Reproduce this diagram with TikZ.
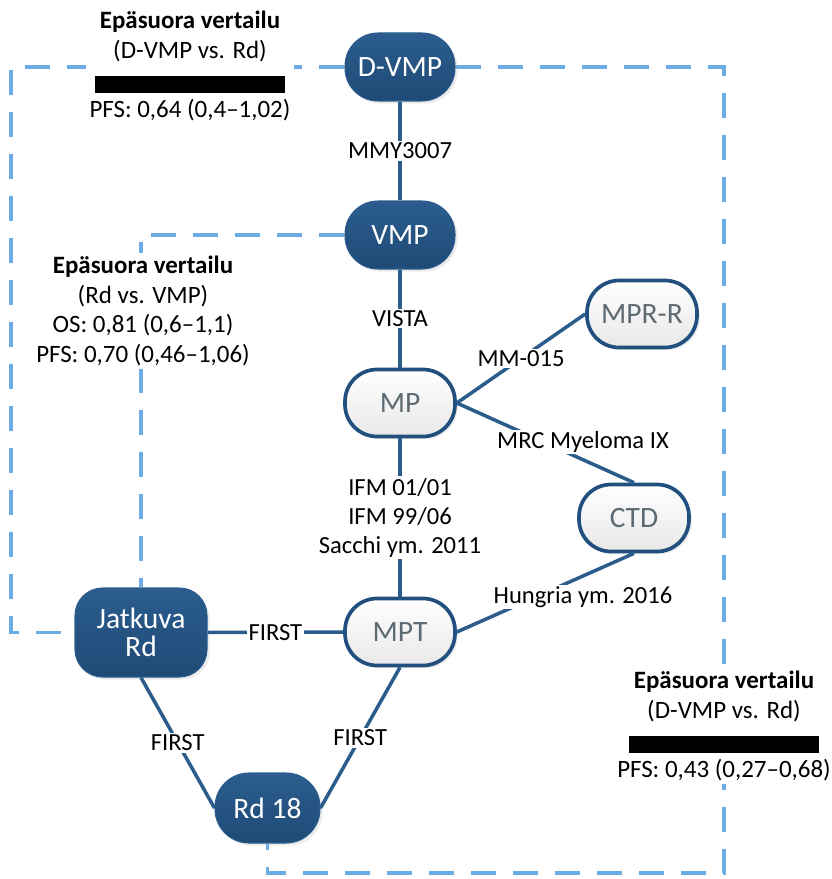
\documentclass[tikz,border=0pt]{standalone}
\usepackage{fontspec}
\setmainfont{Carlito}
\usepackage{tikz}
\usetikzlibrary{shadows}
\definecolor{nodeblue}{HTML}{21507F}
\definecolor{nodetop}{HTML}{2B5D8E}
\definecolor{nodebot}{HTML}{1F4A76}
\definecolor{linkblue}{HTML}{2A5C8C}
\definecolor{cmpblue}{HTML}{6AADE4}
\definecolor{drugtext}{HTML}{5E6A72}
\newcommand\blackbar{\rule[-0.1cm]{3.8cm}{0.34cm}}

\begin{document}
\begin{tikzpicture}[
  drugdark/.style={draw=nodetop, line width=0.6pt, top color=nodetop, bottom color=nodebot,
    text=white, rounded corners=0.66cm, minimum width=2.2cm, minimum height=1.36cm,
    font=\fontsize{16.8}{16}\selectfont, align=center,
    drop shadow={shadow xshift=1.5pt, shadow yshift=-1.5pt, opacity=0.15}},
  druglight/.style={draw=nodeblue, line width=2.1pt, top color=white, bottom color=black!9,
    text=drugtext, rounded corners=0.64cm, minimum width=2.2cm, minimum height=1.34cm,
    font=\fontsize{16.8}{16}\selectfont,
    drop shadow={shadow xshift=1.5pt, shadow yshift=-1.5pt, opacity=0.15}},
  link/.style={draw=linkblue, line width=2pt},
  cmp/.style={draw=cmpblue, line width=2pt, dash pattern=on 0.5cm off 0.34cm},
  lbl/.style={fill=white, inner sep=1pt, align=center, font=\fontsize{14}{16.5}\selectfont},
  cmpbox/.style={fill=white, inner sep=2pt, align=center, font=\fontsize{14.2}{16.8}\selectfont}
]
\useasboundingbox (0,0) rectangle (16.62,-17.58);

\node[drugdark] (dvmp) at (8,-1.34) {D-VMP};
\node[drugdark] (vmp) at (8,-4.70) {VMP};
\node[druglight] (mp) at (8,-8.06) {MP};
\node[druglight] (mprr) at (12.84,-6.28) {MPR-R};
\node[druglight] (ctd) at (12.68,-10.36) {CTD};
\node[druglight] (mpt) at (8,-12.64) {MPT};
\node[drugdark, minimum width=2.64cm, minimum height=1.78cm, rounded corners=0.55cm] (jrd) at (2.82,-12.65) {Jatkuva\\Rd};
\node[drugdark, minimum width=2.1cm, minimum height=1.4cm, rounded corners=0.68cm] (rd18) at (5.35,-16.16) {Rd 18};

% indirect comparisons
\coordinate (c1) at (0.22,-1.34);
\coordinate (c2) at (0.22,-12.65);
\coordinate (c3) at (14.48,-1.34);
\coordinate (c4) at (14.48,-17.46);
\coordinate (c5) at (5.35,-17.46);
\coordinate (c6) at (2.82,-4.70);
\draw[cmp] (dvmp) -- (c1) -- (c2) -- (jrd);
\draw[cmp] (dvmp) -- (c3) -- (c4) -- (c5) -- (rd18);
\draw[cmp] (vmp) -- (c6) -- (jrd);

\node[cmpbox] (cmpA) at (3.8,-1.32) {\textbf{Epäsuora vertailu}\\(D-VMP vs. Rd)\\\blackbar\\PFS: 0,64 (0,4–1,02)};
\node[cmpbox] (cmpB) at (2.86,-6.22) {\textbf{Epäsuora vertailu}\\(Rd vs. VMP)\\OS: 0,81 (0,6–1,1)\\PFS: 0,70 (0,46–1,06)};
\node[cmpbox] (cmpC) at (14.48,-14.52) {\textbf{Epäsuora vertailu}\\(D-VMP vs. Rd)\\\blackbar\\PFS: 0,43 (0,27–0,68)};

% trials
\draw[link] (dvmp) -- node[lbl] {MMY3007} (vmp);
\draw[link] (vmp) -- node[lbl] {VISTA} (mp);
\draw[link] (mp.east) -- node[lbl] {MM-015} (mprr.west);
\draw[link] (mp.east) -- (ctd.north);
\node[lbl] (mrc) at (11.66,-8.84) {MRC Myeloma IX};
\draw[link] (mp) -- node[lbl] {IFM 01/01\\IFM 99/06\\Sacchi ym. 2011} (mpt);
\draw[link] (ctd.south) -- (mpt.east);
\node[lbl] (hungria) at (11.66,-11.94) {Hungria ym. 2016};
\draw[link] (jrd) -- node[lbl] {FIRST} (mpt);
\draw[link] (jrd.south) -- node[lbl] {FIRST} (rd18.west);
\draw[link] (mpt.south) -- node[lbl] {FIRST} (rd18.east);
\end{tikzpicture}
\end{document}
